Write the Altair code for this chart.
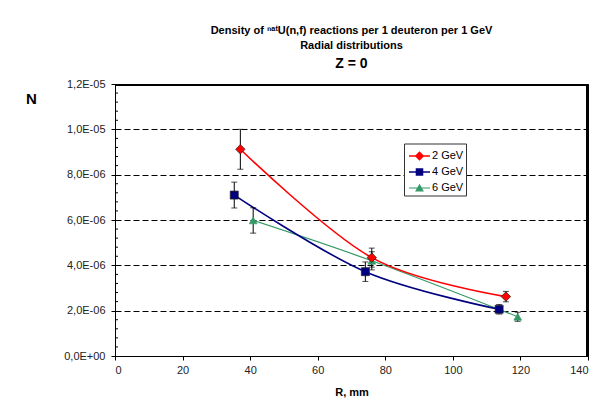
import altair as alt
import pandas as pd

# ---- data ----
series = ["2 GeV", "4 GeV", "6 GeV"]
colors = ["#FF0000", "#000080", "#339966"]
shapes = ["diamond", "square", "triangle-up"]

R_2 = [37.1, 76.0, 115.7]
N_2 = [9.12e-6, 4.34e-6, 2.62e-6]
E_2 = [0.88e-6, 0.42e-6, 0.23e-6]

R_4 = [35.3, 74.1, 113.7]
N_4 = [7.10e-6, 3.72e-6, 2.06e-6]
E_4 = [0.57e-6, 0.43e-6, 0.21e-6]

R_6 = [40.9, 76.0, 119.2]
N_6 = [5.98e-6, 4.20e-6, 1.73e-6]
E_6 = [0.56e-6, 0.40e-6, 0.20e-6]

x_ticks = [0, 20, 40, 60, 80, 100, 120, 140]
y_major = [0, 2e-6, 4e-6, 6e-6, 8e-6, 1.0e-5, 1.2e-5]
y_minor = [0.4e-6, 0.8e-6, 1.2e-6, 1.6e-6, 2.4e-6, 2.8e-6, 3.2e-6, 3.6e-6,
           4.4e-6, 4.8e-6, 5.2e-6, 5.6e-6, 6.4e-6, 6.8e-6, 7.2e-6, 7.6e-6,
           8.4e-6, 8.8e-6, 9.2e-6, 9.6e-6, 10.4e-6, 10.8e-6, 11.2e-6, 11.6e-6]
x_max, y_max = 140, 1.2e-5

rows = []
for s, R, N, E in zip(series, [R_2, R_4, R_6], [N_2, N_4, N_6], [E_2, E_4, E_6]):
    for r, n, e in zip(R, N, E):
        rows.append({"series": s, "R": r, "N": n, "lo": n - e, "hi": n + e})
df = pd.DataFrame(rows)

FONT = "Liberation Sans"
W, H = 473, 272

xs = alt.Scale(domain=[0, x_max], nice=False)
ys = alt.Scale(domain=[0, y_max], nice=False)

label_expr = (
    "datum.value == 0 ? '0,0E+00' : datum.value * 100000 >= 0.999 ? "
    "replace(format(datum.value * 100000, '.1f'), '.', ',') + 'E-05' : "
    "replace(format(datum.value * 1000000, '.1f'), '.', ',') + 'E-06'"
)

x_enc = alt.X(
    "R:Q", scale=xs,
    axis=alt.Axis(values=x_ticks, format="d", grid=False, title="R, mm",
                  titleFont=FONT, titleFontSize=11, titleFontWeight="bold",
                  titlePadding=11, labelFont=FONT, labelFontSize=11, labelPadding=4,
                  tickSize=4, tickColor="black", domainColor="black",
                  labelColor="#222222", titleColor="black"),
)
y_enc = alt.Y(
    "N:Q", scale=ys,
    axis=alt.Axis(values=y_major, labelExpr=label_expr, labelOverlap=False,
                  grid=True, gridColor="black", gridDash=[6, 3], gridWidth=1,
                  tickSize=4, tickColor="black", domainColor="black",
                  labelFont=FONT, labelFontSize=11, labelPadding=6, labelColor="#222222",
                  title="N", titleAngle=0, titleFont=FONT, titleFontSize=15,
                  titleFontWeight="bold", titleX=-84, titleY=14,
                  titleAlign="center", titleBaseline="middle", titleColor="black"),
)

base = alt.Chart(df)
layers = []

order = [2, 1, 0]  # draw 6 GeV first so 2 GeV sits on top
for i in order:
    s, c = series[i], colors[i]
    d = base.transform_filter(alt.datum.series == s)
    layers.append(
        d.mark_line(color=c, strokeWidth=1.6 if s != "6 GeV" else 1.2, interpolate="cardinal")
        .encode(x=x_enc, y=y_enc)
    )

# plot-area border (top and right) and minor ticks on the y axis (inside)
one = pd.DataFrame({"a": [0]})
layers.append(alt.Chart(one).mark_rule(color="black", strokeWidth=2).encode(
    y=alt.value(1), x=alt.value(0), x2=alt.value(W)))
layers.append(alt.Chart(one).mark_rule(color="black", strokeWidth=2).encode(
    x=alt.value(W - 1), y=alt.value(0), y2=alt.value(H)))
minor = alt.Chart(pd.DataFrame({"v": y_minor})).mark_rule(color="black", strokeWidth=1).encode(
    y=alt.Y("v:Q"), x=alt.value(0), x2=alt.value(3))
layers.append(minor)

for i in order:
    s = series[i]
    d = base.transform_filter(alt.datum.series == s)
    layers.append(d.mark_rule(color="black", strokeWidth=1).encode(x="R:Q", y="lo:Q", y2="hi:Q"))
    layers.append(d.mark_tick(color="black", orient="horizontal", size=6, thickness=1).encode(x="R:Q", y="lo:Q"))
    layers.append(d.mark_tick(color="black", orient="horizontal", size=6, thickness=1).encode(x="R:Q", y="hi:Q"))
for i in order:
    s, c, shp = series[i], colors[i], shapes[i]
    d = base.transform_filter(alt.datum.series == s)
    sz = {"diamond": 90, "square": 64, "triangle-up": 60}[shp]
    layers.append(
        d.mark_point(shape=shp, filled=True, color=c, size=sz, opacity=1,
                     stroke="#202020" if shp != "triangle-up" else c, strokeWidth=0.7)
        .encode(x="R:Q", y="N:Q")
    )

# legend symbols: line segment + marker, as custom paths
leg_paths = [
    "M-1,-0.07L1,-0.07L1,0.07L-1,0.07Z M0,-0.45L0.45,0L0,0.45L-0.45,0Z",
    "M-1,-0.07L1,-0.07L1,0.07L-1,0.07Z M-0.36,-0.36L0.36,-0.36L0.36,0.36L-0.36,0.36Z",
    "M-1,-0.05L1,-0.05L1,0.05L-1,0.05Z M0,-0.4L0.42,0.34L-0.42,0.34Z",
]
legend_layer = base.transform_filter("false").mark_point(filled=True, opacity=1).encode(
    x="R:Q", y="N:Q",
    color=alt.Color("series:N", scale=alt.Scale(domain=series, range=colors),
                    legend=alt.Legend(title=None, orient="none", legendX=289, legendY=59.5,
                                      strokeColor="#333333", fillColor="white",
                                      padding=2, rowPadding=-4, symbolOffset=3,
                                      labelFont=FONT, labelFontSize=11, labelColor="black",
                                      symbolSize=441, labelOffset=2, symbolStrokeWidth=0)),
    shape=alt.Shape("series:N", scale=alt.Scale(domain=series, range=leg_paths), legend=None),
)
layers.append(legend_layer)

chart = alt.layer(*layers).properties(
    width=W, height=H, background="white",
    title=alt.Title(
        text=["Density of \u207f\u1d43\u1d57U(n,f) reactions  per 1 deuteron per 1 GeV", "Radial distributions"],
        subtitle="Z = 0",
        font=FONT, fontSize=11, fontWeight="bold", color="black", lineHeight=15,
        subtitleFont=FONT, subtitleFontSize=14, subtitleFontWeight="bold",
        subtitleColor="black", subtitlePadding=6, anchor="middle", offset=7,
    ),
    autosize=alt.AutoSizeParams(type="none"),
    padding={"left": 107, "top": 76, "right": 17, "bottom": 45},
).configure_view(stroke="black", strokeWidth=1)

chart.save("out.html", embed_options={"renderer": "svg", "actions": False})
